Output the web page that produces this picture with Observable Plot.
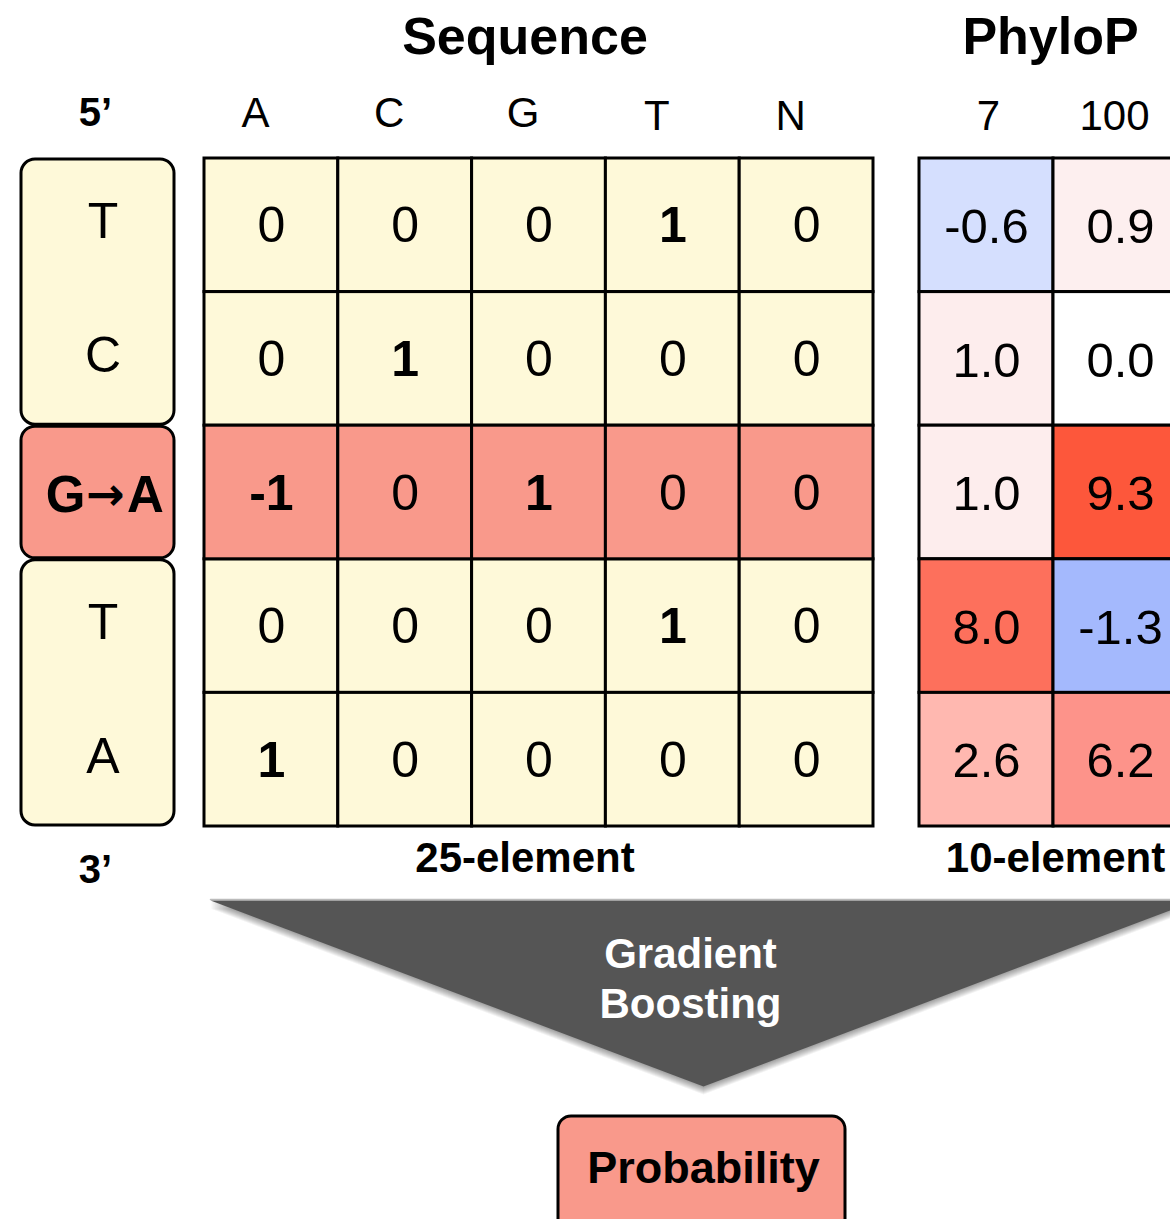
<!DOCTYPE html>
<html><head><meta charset="utf-8">
<script src="https://cdn.jsdelivr.net/npm/d3@7"></script>
<script src="https://cdn.jsdelivr.net/npm/@observablehq/plot@0.6"></script>
<style>html,body{margin:0;background:#fff}#chart svg{display:block}</style>
</head><body><div id="chart"></div>
<script>
// ---- data ----
const strand = ["T", "C", "G→A", "T", "A"];
const bases = ["A", "C", "G", "T", "N"];
const oneHot = [
  [0, 0, 0, 1, 0],
  [0, 1, 0, 0, 0],
  [-1, 0, 1, 0, 0],
  [0, 0, 0, 1, 0],
  [1, 0, 0, 0, 0]
];
const phyloLabels = ["7", "100"];
const phylo7 = [-0.6, 1.0, 1.0, 8.0, 2.6];
const phylo100 = [0.9, 0.0, 9.3, -1.3, 6.2];
const titles = ["Sequence", "PhyloP"];
const footers = ["25-element", "10-element"];
const ends = ["5’", "3’"];
const modelLines = ["Gradient", "Boosting"];
const outputLabel = "Probability";

// ---- layout (pixels) ----
const W = 1170, H = 1219;
const rowY0 = 158, rowH = 133.6;
const seqX0 = 204, colW = 133.8;
const phyX0 = 919, phyW = 134;
const boxX1 = 21, boxX2 = 174;
const cream = "#fef9d9", salmon = "#f9998b";
const font = "Liberation Sans, Arial, Helvetica, sans-serif";

const variantRow = strand.findIndex(s => s.includes("→"));
const [refBase, altBase] = strand[variantRow].split("→");
const rowTop = r => rowY0 + r * rowH;
const rowMid = r => rowY0 + (r + 0.5) * rowH;
const seqMid = c => seqX0 + (c + 0.5) * colW;
const phyMid = c => phyX0 + (c + 0.5) * phyW;
const seqCenter = seqX0 + bases.length * colW / 2 - 14;
const phyCenter = phyX0 + phyW;

const cells = oneHot.flatMap((row, r) => row.map((v, c) => ({r, c, v})));
const phylo = [phylo7, phylo100].flatMap((col, c) => col.map((v, r) => ({r, c, v})));
const groups = [
  {r1: 0, r2: variantRow, variant: false},
  {r1: variantRow, r2: variantRow + 1, variant: true},
  {r1: variantRow + 1, r2: strand.length, variant: false}
];
// funnel outline (closed polygon)
const funnel = [{x: 210, y: 900}, {x: 1196, y: 900}, {x: 703, y: 1086}, {x: 210, y: 900}];
// soft shadow: stacked, progressively offset copies
const shadowLayers = [1, 2, 3, 4, 5, 6, 7, 8].map(k =>
  funnel.map(p => ({x: p.x, y: p.y + k}))
);

const plot = Plot.plot({
  width: W, height: H,
  margin: 0,
  x: {type: "identity", axis: null},
  y: {type: "identity", axis: null},
  color: {
    type: "linear",
    domain: [-1.3, 0, 1, 2.6, 6.2, 9.3],
    range: ["#a4b9fd", "#ffffff", "#fdeded", "#ffb8b0", "#fd938a", "#fd573b"]
  },
  style: {fontFamily: font, background: "#fff"},
  marks: [
    // funnel shadow + funnel
    ...shadowLayers.map(layer =>
      Plot.line(layer, {x: "x", y: "y", fill: "#000", fillOpacity: 0.05, stroke: "none"})
    ),
    Plot.line(funnel.slice(0, 2), {x: "x", y: d => d.y - 1, stroke: "#bbbbbb", strokeWidth: 1.5}),
    Plot.line(funnel, {x: "x", y: "y", fill: "#555555", stroke: "none"}),
    // strand boxes
    Plot.rect(groups, {
      x1: boxX1, x2: boxX2,
      y1: d => rowTop(d.r1) + 1, y2: d => rowTop(d.r2) - 1,
      fill: d => d.variant ? salmon : cream,
      stroke: "black", strokeWidth: 3, rx: 14
    }),
    // sequence cells
    Plot.rect(cells.filter(d => d.r !== variantRow), {
      x1: d => seqX0 + d.c * colW, x2: d => seqX0 + (d.c + 1) * colW,
      y1: d => rowTop(d.r), y2: d => rowTop(d.r + 1),
      fill: cream, stroke: "black", strokeWidth: 3
    }),
    Plot.rect(cells.filter(d => d.r === variantRow), {
      x1: d => seqX0 + d.c * colW, x2: d => seqX0 + (d.c + 1) * colW,
      y1: d => rowTop(d.r), y2: d => rowTop(d.r + 1),
      fill: salmon, stroke: "black", strokeWidth: 3
    }),
    // phyloP cells
    Plot.rect(phylo, {
      x1: d => phyX0 + d.c * phyW, x2: d => phyX0 + (d.c + 1) * phyW,
      y1: d => rowTop(d.r), y2: d => rowTop(d.r + 1),
      fill: "v", stroke: "black", strokeWidth: 3
    }),
    // cell text
    Plot.text(cells.filter(d => d.v === 0), {
      x: d => seqMid(d.c), y: d => rowMid(d.r) + 1, text: d => String(d.v),
      fontSize: 50, lineAnchor: "middle", fill: "black"
    }),
    Plot.text(cells.filter(d => d.v !== 0), {
      x: d => seqMid(d.c), y: d => rowMid(d.r) + 1, text: d => String(d.v),
      fontSize: 50, fontWeight: "bold", lineAnchor: "middle", fill: "black"
    }),
    Plot.text(phylo, {
      x: d => phyMid(d.c), y: d => rowMid(d.r) + 2, text: d => d.v.toFixed(1),
      fontSize: 49, lineAnchor: "middle", fill: "black"
    }),
    // strand letters
    Plot.text(strand.map((s, r) => ({s, r})).filter(d => d.r !== variantRow), {
      x: (boxX1 + boxX2) / 2 + 5, y: d => rowMid(d.r) - 3, text: "s",
      fontSize: 50, lineAnchor: "middle", fill: "black"
    }),
    // variant: ref → alt
    Plot.text([refBase, altBase], {
      x: (d, i) => i === 0 ? 65 : 145, y: rowMid(variantRow) + 3, text: d => d,
      fontSize: 51, fontWeight: "bold", lineAnchor: "middle", fill: "black"
    }),
    Plot.text(["→"], {
      x: 105, y: rowMid(variantRow) + 3, text: d => d,
      fontSize: 46, fontWeight: "bold", fontFamily: "DejaVu Sans, sans-serif",
      lineAnchor: "middle", fill: "black"
    }),
    // headers
    Plot.text(titles, {
      x: (d, i) => i === 0 ? seqCenter : phyCenter - 3, y: 37, text: d => d,
      fontSize: 52, fontWeight: "bold", lineAnchor: "middle", fill: "black"
    }),
    Plot.text(bases, {
      x: (d, i) => seqMid(i) - 16, y: (d, i) => i < 3 ? 113 : 116, text: d => d,
      fontSize: 42, lineAnchor: "middle", fill: "black"
    }),
    Plot.text(phyloLabels, {
      x: (d, i) => phyMid(i) + (i === 0 ? 2 : -6), y: 116, text: d => d,
      fontSize: 42, lineAnchor: "middle", fill: "black"
    }),
    Plot.text(ends, {
      x: 95, y: (d, i) => i === 0 ? 113 : 870, text: d => d,
      fontSize: 40, fontWeight: "bold", lineAnchor: "middle", fill: "black"
    }),
    Plot.text(footers, {
      x: (d, i) => i === 0 ? seqCenter : phyCenter + 2, y: 858, text: d => d,
      fontSize: 42, fontWeight: "bold", lineAnchor: "middle", fill: "black"
    }),
    // model
    Plot.text(modelLines, {
      x: 690, y: (d, i) => 954 + i * 50, text: d => d,
      fontSize: 42, fontWeight: "bold", lineAnchor: "middle", fill: "white"
    }),
    // output box
    Plot.rect([outputLabel], {
      x1: 558, x2: 845, y1: 1116, y2: 1240,
      fill: salmon, stroke: "black", strokeWidth: 3, rx: 13
    }),
    Plot.text([outputLabel], {
      x: 703, y: 1168, text: d => d,
      fontSize: 45, fontWeight: "bold", lineAnchor: "middle", fill: "black"
    })
  ]
});
document.getElementById("chart").appendChild(plot);
</script></body></html>
